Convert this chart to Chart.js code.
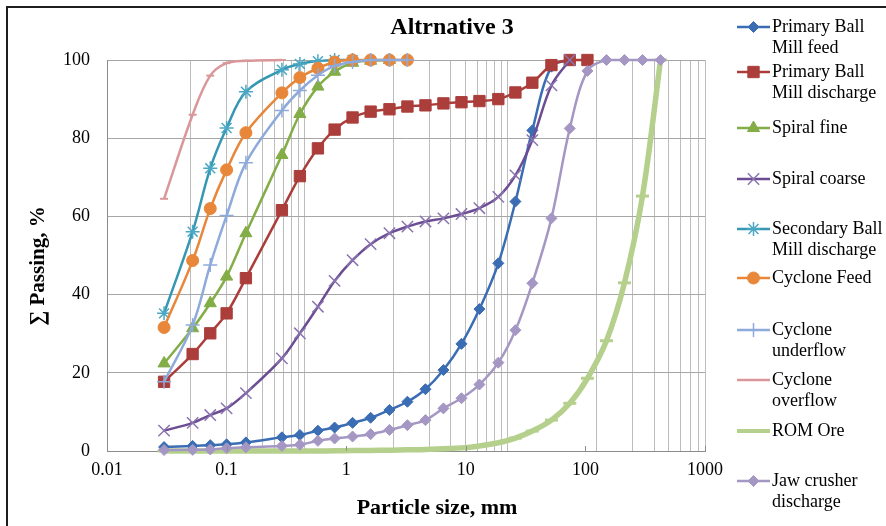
<!DOCTYPE html>
<html>
<head>
<meta charset="utf-8">
<title>Altrnative 3</title>
<script src="https://cdn.jsdelivr.net/npm/chart.js@4.4.1/dist/chart.umd.min.js"></script>
<style>
  html, body { margin: 0; padding: 0; background: #fff; }
  #wrap { position: relative; width: 886px; height: 526px; }
</style>
</head>
<body>
<div id="wrap"><canvas id="psd" width="886" height="526"></canvas></div>
<script>
const sizes = [0.03, 0.052, 0.073, 0.1, 0.145, 0.29, 0.41, 0.58, 0.8, 1.13, 1.6, 2.3, 3.25,
  4.6, 6.5, 9.2, 13, 18.7, 26, 36, 52, 74, 104, 150, 212, 300, 425];

// cumulative % passing, one list per stream (starts at the finest size)
const pbmFeed = [1, 1.3, 1.5, 1.7, 2.2, 3.5, 4.1, 5.2, 6, 7.2, 8.5, 10.5, 12.6, 15.8, 20.7,
  27.4, 36.3, 48, 63.8, 82, 98.3, 100];
const pbmDischarge = [17.7, 24.8, 30.1, 35.2, 44.2, 61.6, 70.3, 77.4, 82.2, 85.3, 86.8, 87.4,
  88.1, 88.4, 88.9, 89.2, 89.5, 90, 91.7, 94.2, 98.7, 100, 100];
const spiralFine = [22.4, 31.4, 37.8, 44.6, 55.7, 75.7, 86.2, 93.2, 97, 99.3, 99.8, 100];
const spiralCoarse = [5.2, 7.2, 9.2, 10.9, 14.8, 23.7, 30.1, 36.9, 43.5, 48.8, 52.9, 55.7,
  57.4, 58.7, 59.5, 60.6, 62.1, 65, 70.5, 79.5, 93.5, 100];
const sbmDischarge = [35.2, 56.1, 72.3, 82.6, 91.9, 97.5, 99, 99.7, 100, 100];
const cycloneFeed = [31.6, 48.7, 62, 71.9, 81.4, 91.6, 95.5, 97.9, 99.5, 100, 100, 100, 100];
const cycloneUnder = [17.7, 32.2, 47.6, 60.2, 73.7, 87.1, 92.2, 96.1, 98.5, 99.5, 100, 100, 100];
const cycloneOver = [64.5, 86, 96, 99.2, 99.8, 100];
const romOre = [0, 0, 0, 0, 0, 0, 0, 0, 0.05, 0.1, 0.15, 0.2, 0.3, 0.4, 0.6, 0.8, 1.3, 2.1,
  3.3, 5.1, 7.9, 12.2, 18.6, 28.2, 43, 65.2, 100];
const jawDischarge = [0.25, 0.3, 0.4, 0.7, 0.95, 1.3, 1.6, 2.6, 3.2, 3.7, 4.3, 5.4, 6.6, 7.9,
  10.9, 13.5, 17, 22.6, 30.9, 42.9, 59.5, 82.5, 97.2, 100, 100, 100, 100];

// axis labels and the (odd) vertical gridlines of the original sheet
const xLabels = [0.01, 0.1, 1, 10, 100, 1000];
const xGrid = [0.05, 0.1, 0.15, 0.2, 0.25, 0.3, 0.35, 0.4, 0.45,
  2.5, 5, 7.5, 10, 12.5, 15, 17.5, 20, 22.5,
  125, 250, 375, 500, 625, 750, 875, 1000];

const series = [
  { name: 'Primary Ball\nMill feed', data: pbmFeed, color: '#3a6db3', style: 'rectRot', r: 5.5, pw: 1, lw: 2.5 },
  { name: 'Primary Ball\nMill discharge', data: pbmDischarge, color: '#ab3d3a', style: 'rect', r: 8, pw: 1, lw: 2.5 },
  { name: 'Spiral fine', data: spiralFine, color: '#83ad47', style: 'triangle', r: 7, pw: 1, lw: 2.5 },
  { name: 'Spiral coarse', data: spiralCoarse, color: '#6c4d93', pcolor: '#8a74b0', style: 'crossRot', r: 8, pw: 1.5, lw: 2.5 },
  { name: 'Secondary Ball\nMill discharge', data: sbmDischarge, color: '#3597b2', pcolor: '#4aa8c4', style: 'star', r: 7, pw: 1.5, lw: 2.5 },
  { name: 'Cyclone Feed', data: cycloneFeed, color: '#e8873a', style: 'circle', r: 6, pw: 1, lw: 2.5 },
  { name: 'Cyclone\nunderflow', data: cycloneUnder, color: '#8eaadb', style: 'cross', r: 7, pw: 1.5, lw: 2.5 },
  { name: 'Cyclone\noverflow', data: cycloneOver, color: '#d9979a', style: 'line', r: 4, pw: 2, lw: 2.5 },
  { name: 'ROM Ore', data: romOre, color: '#b5d08c', style: 'line', r: 6.5, pw: 3, lw: 5.5 },
  { name: 'Jaw crusher\ndischarge', data: jawDischarge, color: '#a597c4', style: 'rectRot', r: 5.5, pw: 1, lw: 2.5 }
];

// legend rows: y of the first text line of each entry
const legendRows = [27, 72, 128, 179, 229, 278, 330, 380, 431, 481];

Chart.defaults.font.family = '"Liberation Serif", "Times New Roman", serif';
Chart.defaults.color = '#000';

const datasets = series.map((s, i) => ({
  label: s.name.replace('\n', ' '),
  data: s.data.map((v, k) => ({ x: sizes[k], y: v })),
  borderColor: s.color,
  backgroundColor: s.pcolor || s.color,
  pointBorderColor: s.pcolor || s.color,
  pointBackgroundColor: s.pcolor || s.color,
  pointStyle: s.style,
  pointRadius: s.r,
  pointBorderWidth: s.pw,
  borderWidth: s.lw,
  tension: 0.35,
  clip: false,
  order: series.length - i
}));

const decor = {
  id: 'decor',
  beforeDraw(chart) {
    const c = chart.ctx;
    c.save();
    c.fillStyle = '#fff';
    c.fillRect(0, 0, chart.width, chart.height);
    c.strokeStyle = '#1e1e1e';
    c.lineWidth = 2;
    c.beginPath();
    c.moveTo(7, chart.height);
    c.lineTo(7, 7);
    c.lineTo(chart.width, 7);
    c.stroke();
    c.restore();
  },
  afterDraw(chart) {
    const c = chart.ctx;
    const area = chart.chartArea;
    const xs = chart.scales.x;
    c.save();

    // small inside tick marks at the labelled decades
    c.strokeStyle = '#8c8c8c';
    c.lineWidth = 1;
    xLabels.forEach(v => {
      const px = Math.round(xs.getPixelForValue(v)) + 0.5;
      c.beginPath();
      c.moveTo(px, area.bottom);
      c.lineTo(px, area.bottom - 5);
      c.stroke();
    });

    c.fillStyle = '#000';
    c.textAlign = 'center';
    c.textBaseline = 'alphabetic';
    c.font = 'bold 24px "Liberation Serif"';
    c.fillText('Altrnative 3', 452, 34);

    c.font = 'bold 22px "Liberation Serif"';
    c.fillText('Particle size, mm', 437, 514);

    c.save();
    c.translate(44, 266);
    c.rotate(-Math.PI / 2);
    c.font = 'bold 21px "Liberation Serif"';
    c.fillText('\u2211 Passing, %', 0, 0);
    c.restore();

    // legend
    c.textAlign = 'left';
    c.textBaseline = 'middle';
    c.font = '18px "Liberation Serif"';
    series.forEach((s, i) => {
      const y = legendRows[i];
      c.strokeStyle = s.color;
      c.lineWidth = Math.min(s.lw, 4);
      c.beginPath();
      c.moveTo(737, y);
      c.lineTo(770, y);
      c.stroke();
      if (s.style !== 'line' && Chart.helpers && Chart.helpers.drawPoint) {
        c.fillStyle = s.pcolor || s.color;
        c.strokeStyle = s.pcolor || s.color;
        c.lineWidth = s.pw;
        Chart.helpers.drawPoint(c, { pointStyle: s.style, radius: s.r, borderWidth: s.pw, rotation: 0 }, 753.5, y);
      }
      c.fillStyle = '#000';
      s.name.split('\n').forEach((line, j) => c.fillText(line, 772, y + j * 21));
    });
    c.restore();
  }
};

new Chart(document.getElementById('psd'), {
  type: 'line',
  data: { datasets },
  plugins: [decor],
  options: {
    responsive: false,
    animation: false,
    devicePixelRatio: 1,
    layout: { padding: { left: 0, right: 181, top: 60, bottom: 0 } },
    plugins: {
      legend: { display: false },
      title: { display: false },
      tooltip: { enabled: false }
    },
    scales: {
      x: {
        type: 'logarithmic',
        min: 0.01,
        max: 1000,
        afterBuildTicks: scale => {
          const vals = Array.from(new Set(xLabels.concat(xGrid))).sort((a, b) => a - b);
          scale.ticks = vals.map(v => ({ value: v }));
        },
        afterFit: scale => { scale.height = 75; },
        ticks: {
          autoSkip: false,
          maxRotation: 0,
          padding: 8,
          color: '#000',
          font: { size: 18 },
          callback: v => xLabels.includes(v) ? String(v) : ''
        },
        grid: {
          drawTicks: false,
          lineWidth: 1,
          color: ctx => (ctx.tick && xGrid.includes(ctx.tick.value)) ? '#bdbdbd' : 'rgba(0,0,0,0)'
        },
        border: { color: '#8c8c8c', width: 1 }
      },
      y: {
        min: 0,
        max: 100,
        afterFit: scale => { scale.width = 107; },
        ticks: { stepSize: 20, padding: 17, color: '#000', font: { size: 18 } },
        grid: { drawTicks: false, color: '#a6a6a6', lineWidth: 1 },
        border: { color: '#8c8c8c', width: 1 }
      }
    }
  }
});
</script>
</body>
</html>
